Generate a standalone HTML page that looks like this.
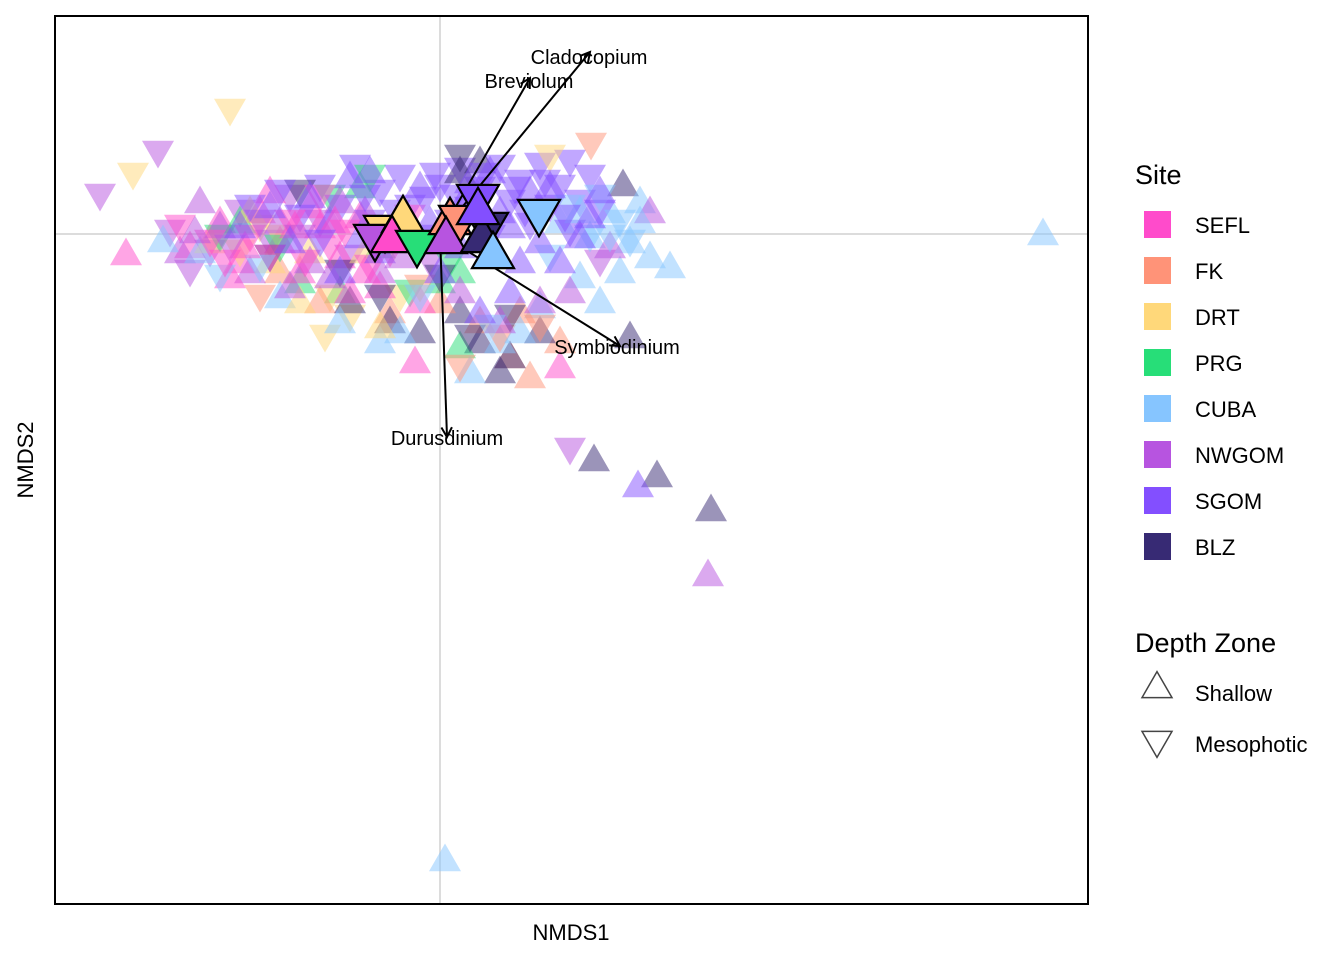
<!DOCTYPE html>
<html><head><meta charset="utf-8"><style>
body{margin:0;background:#fff;}
svg{display:block;font-family:"Liberation Sans",Arial,sans-serif;}
</style></head><body>
<svg id="chart" width="1344" height="960" viewBox="0 0 1344 960" xmlns="http://www.w3.org/2000/svg">
<rect x="0" y="0" width="1344" height="960" fill="#fff"/>
<g id="plot"></g>
<rect x="55" y="16" width="1033" height="888" fill="none" stroke="#000" stroke-width="2"/>
<text x="571" y="940" font-size="22" text-anchor="middle">NMDS1</text>
<text x="33" y="460" font-size="22" text-anchor="middle" transform="rotate(-90 33 460)">NMDS2</text>
<g id="legend"></g>
</svg>
<script>
const siteNames = ["SEFL","FK","DRT","PRG","CUBA","NWGOM","SGOM","BLZ"];
const siteColors = ["#FF4BCB","#FF9378","#FFD87A","#27DE78","#86C5FF","#B754E0","#834FFF","#372A74"];
// points: [x, y, depth] depth 0=shallow 1=mesophotic
const ptsSGOM = [[-85,70,1],[-40,60,1],[20,67,1],[60,70,1],[100,72,1],[130,75,1],[-120,50,1],[-60,45,1],[0,50,1],[40,48,1],[80,55,1],[120,50,1],[150,60,1],[-100,30,1],[-30,30,1],[30,28,1],[70,35,1],[110,30,1],[140,35,1],[-140,20,1],[-70,15,1],[10,15,1],[90,12,1],[160,25,1],[-50,0,1],[50,0,1],[130,5,1],
[-90,55,0],[-20,45,0],[50,60,0],[90,40,0],[-110,10,0],[-10,10,0],[60,20,0],[100,-10,0],[-60,-20,0],[20,-15,0],[140,-5,0],[-150,-10,0],[120,-30,0],[70,-60,0],[0,-40,0],[-130,35,0],[160,40,0],[40,-80,0],[198,-254,0],
[-75,40,1],[-15,38,1],[15,40,1],[75,48,1],[105,55,1],[-5,62,1],[45,62,1],[85,25,1],[125,20,1],[-45,25,1],[-160,45,1],[-190,30,1],[-120,-5,1],[-20,0,1],
[-70,60,0],[30,50,0],[70,5,0],[110,45,0],[-35,15,0],[-170,25,0],[-200,5,0],[-80,-5,0],[150,15,0],[80,-30,0],[20,25,0],[-100,-40,0]];
const ptsNWGOM = [[-270,5,1],[-230,-15,1],[-200,25,1],[-170,-5,1],[-150,40,1],[-120,15,1],[-90,-20,1],[-50,10,1],[-10,-25,1],[-250,-35,1],[160,-25,1],[-282,84,1],[-340,41,1],[130,-213,1],
[-260,-20,0],[-220,5,0],[-190,-40,0],[-160,10,0],[-130,-30,0],[-100,30,0],[-60,-40,0],[-20,-10,0],[20,-60,0],[60,-90,0],[100,-70,0],[170,-15,0],[210,20,0],[130,-60,0],[268,-343,0],[-240,30,0],
[-210,-10,1],[-140,0,1],[-180,15,1],[-110,-45,0],[-75,20,0],[-40,-25,0],[-245,0,0],[-150,-55,0]];
const ptsSEFL = [[-250,-15,0],[-220,10,0],[-200,-30,0],[-180,20,0],[-160,-10,0],[-140,-40,0],[-120,5,0],[-100,-25,0],[-80,15,0],[-60,-55,0],[-40,-5,0],[-20,-70,0],[-170,40,0],[-130,25,0],[-90,-60,0],[-314,-22,0],[-25,-130,0],[120,-135,0],[-210,-45,0],
[-230,-5,1],[-190,0,1],[-150,15,1],[-110,-10,1],[-70,-30,1],[-30,20,1],[-260,10,1],[-170,-20,1],[-120,40,1],[-50,-15,1],
[-195,-15,0],[-145,5,0],[-105,10,0],[-75,-40,0],[-215,-25,1],[-135,-25,1],[-95,5,1]];
const ptsCUBA = [[120,10,0],[150,-5,0],[170,20,0],[190,-10,0],[210,-25,0],[230,-35,0],[180,-40,0],[140,-45,0],[100,-75,0],[60,-110,0],[30,-140,0],[-40,-100,0],[-60,-110,0],[-100,-90,0],[-160,-65,0],[-240,-20,0],[-277,-9,0],[603,-2,0],[5,-628,0],[160,-70,0],[80,-100,0],[200,30,0],
[130,30,1],[160,40,1],[180,15,1],[150,0,1],[110,-20,1],[-20,-60,1],[-180,-30,1],[-220,-40,1],[190,-5,1],[50,-90,1],[170,0,1],[200,10,0],[140,20,0]];
const ptsBLZ = [[20,-80,0],[40,-110,0],[70,-125,0],[-20,-100,0],[-50,-90,0],[60,-140,0],[100,-100,0],[190,-105,0],[154,-228,0],[217,-244,0],[271,-278,0],[-90,-70,0],[20,60,0],[40,70,0],[183,47,0],
[-60,-60,1],[-100,-35,1],[0,-40,1],[70,-80,1],[30,-100,1],[-170,-20,1],[20,80,1],[-140,45,1]];
const ptsFK = [[70,-125,0],[90,-145,0],[120,-110,0],[-50,-80,0],[0,-70,0],[40,-90,0],[-120,-70,0],[-160,-40,0],[80,-80,0],
[151,92,1],[20,-130,1],[100,-90,1],[-20,-50,1],[-180,-60,1],[60,-100,1]];
const ptsDRT = [[-210,126,1],[-307,62,1],[-180,10,1],[-200,-15,1],[-110,-60,1],[-90,-80,1],[-40,-60,1],[110,80,1],[-160,0,1],[-115,-100,1],
[-230,-10,0],[-170,-30,0],[-130,-20,0],[-60,-95,0],[-190,20,0],[-140,-70,0],[-75,-20,0]];
const ptsPRG = [[-100,-60,0],[20,-115,0],[-60,-15,0],[-140,-50,0],[0,-50,0],[-200,10,0],[-80,45,0],[20,-40,0],
[-110,40,1],[-30,-55,1],[-160,-10,1],[10,-25,1],[-220,0,1],[-70,60,1]];
// centroids: [siteIndex, x, y, depth]
const centroids = [[2,-55,6,1],[5,-65,-3,1],[2,-37,14,0],[0,-48,-6,0],[3,-23,-9,1],[1,10,12,0],[1,20,16,1],[5,6,-7,0],[7,47,9,1],[7,42,-6,0],[6,38,37,1],[6,38,22,0],[4,53,-22,0],[4,99,22,1]];
// arrows (vector loadings)
const arrowNames = ["Cladocopium","Breviolum","Symbiodinium","Durusdinium"];
const arrowX = [150,90,180,7];
const arrowY = [182,156,-112,-203];
const arrowLabelDX = [-1,-1,-3,0];
const arrowLabelDY = [5,3,1,1];

const NS="http://www.w3.org/2000/svg";
const xS = v => 440 + v;
const yS = v => 234 - v;
const plot = document.getElementById('plot');
function mk(tag, attrs, parent){const e=document.createElementNS(NS,tag);for(const k in attrs)e.setAttribute(k,attrs[k]);parent.appendChild(e);return e;}
function tri(cx,cy,w,down){const h=w*0.866;
 if(down) return `${cx-w/2},${cy-h/3} ${cx+w/2},${cy-h/3} ${cx},${cy+2*h/3}`;
 return `${cx-w/2},${cy+h/3} ${cx+w/2},${cy+h/3} ${cx},${cy-2*h/3}`;}
mk('line',{x1:55,x2:1088,y1:yS(0),y2:yS(0),stroke:'#dcdcdc','stroke-width':2},plot);
mk('line',{x1:xS(0),x2:xS(0),y1:16,y2:904,stroke:'#dcdcdc','stroke-width':2},plot);
const sets = [[6,ptsSGOM],[4,ptsCUBA],[5,ptsNWGOM],[0,ptsSEFL],[7,ptsBLZ],[1,ptsFK],[2,ptsDRT],[3,ptsPRG]];
const all=[];
const maxLen=Math.max(...sets.map(s=>s[1].length));
for(let i=0;i<maxLen;i++)for(const [si,arr] of sets){if(i<arr.length)all.push([si,arr[i]]);}
all.forEach(([si,p])=>{
 const e=mk('polygon',{points:tri(xS(p[0]),yS(p[1]),32,p[2]===1),fill:siteColors[si],'fill-opacity':0.5},plot);
 
 
});
arrowNames.forEach((n,i)=>{
 const x1=xS(0),y1=yS(0),x2=xS(arrowX[i]),y2=yS(arrowY[i]);
 const l=mk('line',{x1,y1,x2,y2,stroke:'#000','stroke-width':2},plot);
 
 
 const a=Math.atan2(y2-y1,x2-x1),L=11,s=0.5;
 const h=mk('polyline',{points:`${x2-L*Math.cos(a-s)},${y2-L*Math.sin(a-s)} ${x2},${y2} ${x2-L*Math.cos(a+s)},${y2-L*Math.sin(a+s)}`,fill:'none',stroke:'#000','stroke-width':2},plot);
 
 
});
centroids.forEach(c=>{
 const e=mk('polygon',{points:tri(xS(c[1]),yS(c[2]),42,c[3]===1),fill:siteColors[c[0]],stroke:'#000','stroke-width':2.2,'stroke-linejoin':'miter'},plot);
 
 
});
arrowNames.forEach((n,i)=>{
 const t=mk('text',{x:xS(arrowX[i])+arrowLabelDX[i],y:yS(arrowY[i])+7+arrowLabelDY[i],'font-size':20,'text-anchor':'middle'},plot);
 t.textContent=n;
 
 
});
const lg=document.getElementById('legend');
let t=mk('text',{x:1135,y:184,'font-size':27},lg);t.textContent='Site';


siteNames.forEach((n,i)=>{
 const y=211+i*46;
 const r=mk('rect',{x:1144,y:y,width:27,height:27,fill:siteColors[i]},lg);
 
 
 const tx=mk('text',{x:1195,y:y+22,'font-size':22},lg);tx.textContent=n;
 
 
});
t=mk('text',{x:1135,y:652,'font-size':27},lg);t.textContent='Depth Zone';


[['Shallow',false,689],['Mesophotic',true,740]].forEach(([n,d,y])=>{
 const p=mk('polygon',{points:tri(1157,y,30,d),fill:'none',stroke:'#444','stroke-width':1.5},lg);
 
 
 const tx=mk('text',{x:1195,y:y+12,'font-size':22},lg);tx.textContent=n;
 
 
});
</script>
</body></html>
